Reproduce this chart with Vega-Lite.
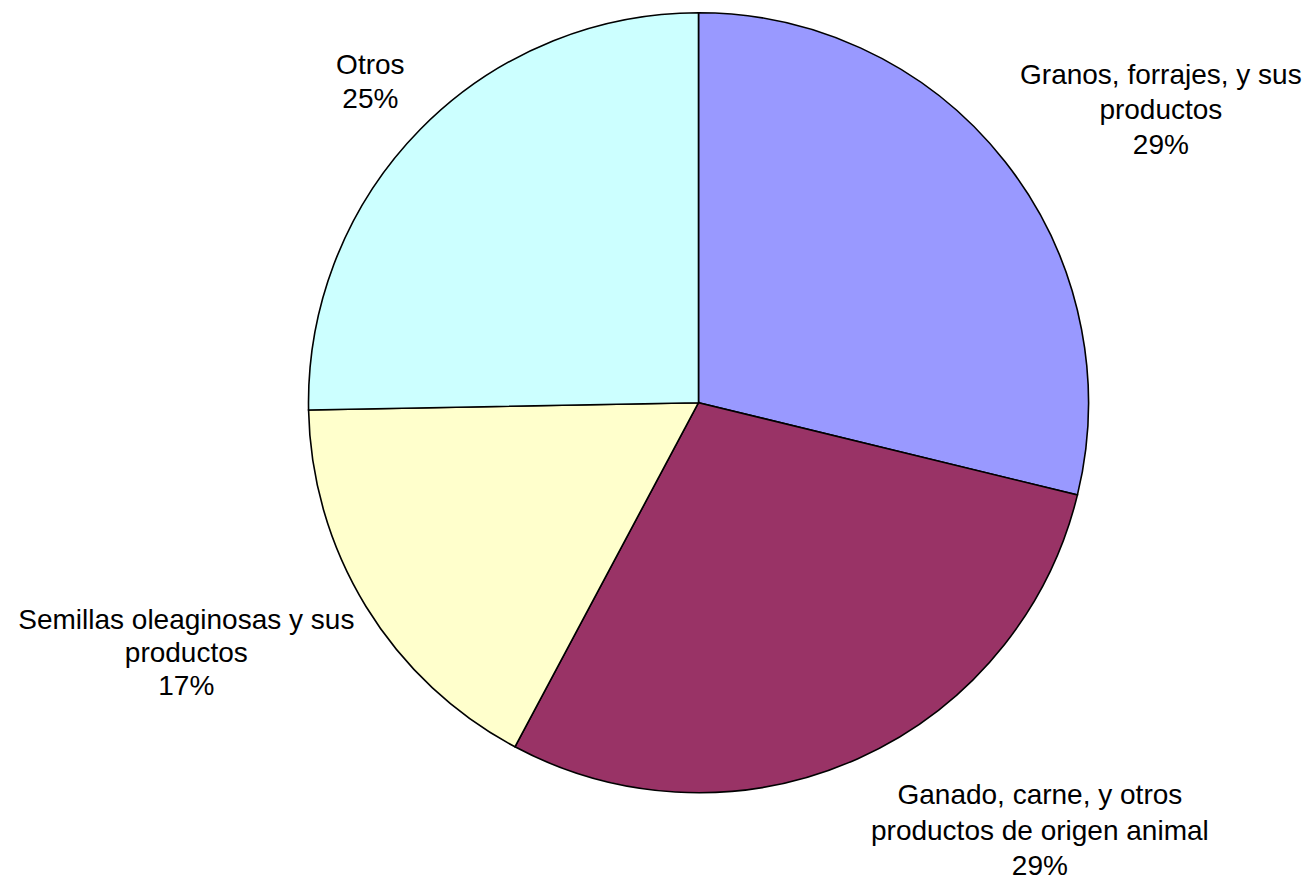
{
  "$schema": "https://vega.github.io/schema/vega-lite/v6.json",
  "autosize": "none",
  "width": 780,
  "height": 780,
  "padding": {"left": 308.5, "top": 12.7, "right": 223.5, "bottom": 87.3},
  "background": "white",
  "config": {"view": {"stroke": null}},
  "data": {
    "values": [
      {"cat": "Granos", "order": 1, "value": 28.8, "label": "Granos, forrajes, y sus\nproductos\n29%"},
      {"cat": "Ganado", "order": 2, "value": 29.0, "label": "Ganado, carne, y otros\nproductos de origen animal\n29%"},
      {"cat": "Semillas", "order": 3, "value": 16.9, "label": "Semillas oleaginosas y sus\nproductos\n17%"},
      {"cat": "Otros", "order": 4, "value": 25.3, "label": "Otros\n25%"}
    ]
  },
  "encoding": {
    "theta": {"field": "value", "type": "quantitative", "stack": true},
    "order": {"field": "order", "type": "quantitative"}
  },
  "layer": [
    {
      "mark": {"type": "arc", "outerRadius": 390, "stroke": "black", "strokeWidth": 1.6},
      "encoding": {
        "color": {
          "field": "cat",
          "type": "nominal",
          "scale": {"domain": ["Granos", "Ganado", "Semillas", "Otros"], "range": ["#9999FF", "#993366", "#FFFFCC", "#CCFFFF"]},
          "legend": null
        }
      }
    },
    {
      "mark": {"type": "text", "radius": 547, "thetaOffset": 0.1023, "dy": -34, "font": "Liberation Sans", "fontSize": 28, "lineBreak": "\n", "lineHeight": 35, "align": "center", "baseline": "middle", "color": "black"},
      "encoding": {
        "detail": {"field": "cat", "type": "nominal"},
        "text": {"condition": {"test": "datum.cat === 'Granos'", "field": "label"}, "value": ""}
      }
    },
    {
      "mark": {"type": "text", "radius": 548, "thetaOffset": -0.2515, "dy": -35, "font": "Liberation Sans", "fontSize": 28, "lineBreak": "\n", "lineHeight": 35.5, "align": "center", "baseline": "middle", "color": "black"},
      "encoding": {
        "detail": {"field": "cat", "type": "nominal"},
        "text": {"condition": {"test": "datum.cat === 'Ganado'", "field": "label"}, "value": ""}
      }
    },
    {
      "mark": {"type": "text", "radius": 570, "thetaOffset": 0.0955, "dy": -32, "font": "Liberation Sans", "fontSize": 28, "lineBreak": "\n", "lineHeight": 33, "align": "center", "baseline": "middle", "color": "black"},
      "encoding": {
        "detail": {"field": "cat", "type": "nominal"},
        "text": {"condition": {"test": "datum.cat === 'Semillas'", "field": "label"}, "value": ""}
      }
    },
    {
      "mark": {"type": "text", "radius": 459, "thetaOffset": -0.0017, "dy": -16, "font": "Liberation Sans", "fontSize": 28, "lineBreak": "\n", "lineHeight": 34, "align": "center", "baseline": "middle", "color": "black"},
      "encoding": {
        "detail": {"field": "cat", "type": "nominal"},
        "text": {"condition": {"test": "datum.cat === 'Otros'", "field": "label"}, "value": ""}
      }
    }
  ]
}
